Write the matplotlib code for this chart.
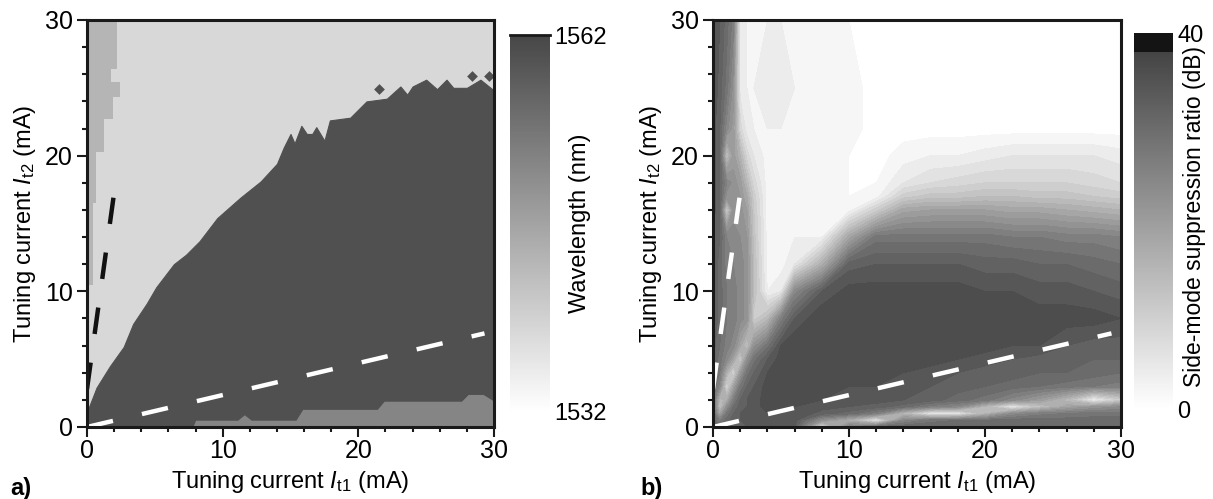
import numpy as np
import matplotlib
matplotlib.use('Agg')
import matplotlib.pyplot as plt
from matplotlib.colors import LinearSegmentedColormap, Normalize
from matplotlib.cm import ScalarMappable
from matplotlib.ticker import MultipleLocator

plt.rcParams['font.family'] = 'Liberation Sans'
plt.rcParams['mathtext.fontset'] = 'custom'
plt.rcParams['mathtext.rm'] = 'Liberation Sans'
plt.rcParams['mathtext.it'] = 'Liberation Sans:italic'
plt.rcParams['font.size'] = 17

# ---- panel a: lasing wavelength (nm) of each mode region
wl_background = 1538.4
wl_dark = 1560.5
wl_left = 1544.1
wl_bottom = 1551.9

# upper edge of the long-wavelength region (mA)
dark_x = [0, 0.7, 1.7, 2.7, 3.4, 4.4, 5.1, 6.4, 7.3, 8.3, 9.6, 11.3, 12.8, 14.0, 14.5, 15.0,
          15.3, 15.8, 16.2, 16.6, 16.9, 17.5, 17.9, 19.4, 20.6, 22.1, 23.1, 23.6, 24.0, 25.0,
          25.8, 26.5, 27.0, 28.0, 29.0, 30]
dark_y = [1.1, 2.9, 4.5, 5.9, 7.6, 9.1, 10.3, 12.0, 12.7, 13.7, 15.4, 16.9, 18.1, 19.4, 20.6, 21.6,
          20.9, 22.2, 21.6, 21.6, 22.1, 21.1, 22.6, 22.8, 24.0, 24.2, 25.1, 24.5, 25.1, 25.6,
          24.9, 25.6, 25.0, 25.0, 25.6, 24.8]
dark_spot_x = [21.5, 28.4, 29.6]
dark_spot_y = [24.9, 25.9, 25.9]

# upper edge of the strip along the bottom
strip_x = [7.8, 8.0, 11.1, 11.6, 12.1, 15.4, 15.9, 21.4, 21.9, 27.6, 28.1, 29.2, 30]
strip_y = [0.0, 0.5, 0.5, 0.9, 0.5, 0.5, 1.3, 1.3, 1.9, 1.9, 2.4, 2.4, 1.9]

# right edge of the strip along the left axis
left_y = [30, 26.4, 26.4, 25.4, 25.4, 24.3, 24.3, 22.7, 22.7, 20.3, 20.3, 16.5, 16.5, 10.5]
left_x = [2.2, 2.2, 1.75, 1.75, 2.4, 2.4, 1.95, 1.95, 1.25, 1.25, 0.7, 0.7, 0.45, 0.45]

# ---- panel b: side-mode suppression ratio (dB), read on a coarse grid
smsr_x = [0, 0.5, 1, 1.5, 2, 2.5, 3, 4, 5, 6, 8, 10, 12, 14, 16, 18, 20, 22, 24, 26, 28, 30]
smsr_y = [0, 0.5, 1, 1.5, 2, 3, 4, 5, 6, 8, 10, 12, 14, 16, 17, 18, 20, 22, 25, 30]
# one column per smsr_x entry, values from bottom (y=0) to top (y=30)
smsr_cols = [
    [31, 30, 29, 29, 29, 29, 30, 31, 32, 33, 33, 33, 33, 34, 34, 34, 34, 34, 35, 35],
    [30, 26, 18, 12, 14, 24, 27, 28, 29, 30, 30, 30, 31, 31, 31, 31, 31, 31, 32, 33],
    [31, 30, 27, 22, 16, 8, 16, 24, 26, 27, 27, 26, 25, 10, 22, 25, 12, 24, 28, 30],
    [32, 32, 31, 29, 26, 18, 8, 18, 24, 26, 26, 25, 24, 22, 22, 22, 20, 20, 22, 26],
    [33, 33, 33, 32, 31, 27, 20, 10, 18, 24, 24, 24, 23, 22, 21, 20, 15, 8, 4, 4],
    [33, 34, 34, 33, 33, 31, 28, 22, 12, 22, 22, 22, 21, 19, 17, 14, 8, 4, 3, 3],
    [33, 34, 34, 34, 34, 33, 31, 28, 22, 10, 13, 13, 12, 11, 10, 8, 5, 3, 3, 3],
    [33, 34, 35, 36, 36, 36, 35, 33, 28, 14, 3, 2, 2, 2, 2, 2, 2, 3, 4, 3],
    [33, 34, 35, 36, 36, 37, 37, 36, 35, 26, 5, 2, 2, 2, 2, 2, 2, 3, 4, 3],
    [33, 34, 35, 35, 36, 37, 37, 37, 37, 33, 24, 5, 3, 2, 2, 2, 2, 3, 3, 3],
    [6, 22, 32, 34, 35, 36, 37, 37, 37, 37, 33, 16, 3, 2, 2, 2, 2, 2, 3, 2],
    [26, 16, 30, 33, 34, 35, 36, 37, 37, 37, 36, 32, 18, 2, 1, 1, 1, 2, 2, 1],
    [30, 4, 26, 32, 34, 35, 36, 37, 37, 37, 36, 33, 28, 10, 2, 1, 0, 0, 0, 0],
    [31, 24, 14, 30, 33, 34, 35, 36, 37, 37, 36, 33, 28, 18, 10, 5, 2, 0, 0, 0],
    [31, 28, 4, 26, 32, 33, 34, 36, 37, 37, 36, 33, 28, 19, 12, 7, 3, 0, 0, 0],
    [31, 29, 4, 24, 30, 32, 33, 35, 37, 37, 36, 33, 28, 19, 12, 8, 3, 0, 0, 0],
    [31, 29, 14, 14, 28, 31, 32, 34, 36, 37, 35, 32, 28, 19, 13, 9, 4, 0, 0, 0],
    [31, 30, 23, 4, 24, 30, 32, 33, 35, 37, 35, 32, 27, 18, 13, 9, 5, 0, 0, 0],
    [31, 30, 26, 12, 20, 29, 31, 32, 35, 36, 34, 31, 27, 18, 12, 9, 5, 0, 0, 0],
    [31, 30, 27, 18, 14, 28, 31, 32, 33, 36, 34, 31, 26, 17, 12, 9, 5, 0, 0, 0],
    [31, 30, 28, 21, 3, 27, 30, 31, 32, 36, 33, 30, 26, 16, 11, 8, 5, 0, 0, 0],
    [31, 30, 28, 23, 10, 26, 29, 31, 32, 35, 32, 29, 25, 15, 10, 7, 4, 0, 0, 0],
]

# guide lines (same in both panels)
steep_x = [0, 1.95]
steep_y = [2.8, 16.9]
flat_x = [0, 29.3]
flat_y = [0, 6.9]

# colour maps
cmap_a = LinearSegmentedColormap.from_list('wl', ['#ffffff', '#474747'])
norm_a = Normalize(1532, 1562)
cmap_b = LinearSegmentedColormap.from_list(
    'smsr', [(0, '#ffffff'), (0.95, '#444444'), (0.95, '#141414'), (1, '#141414')])
norm_b = Normalize(0, 40)

W, H = 1213, 499
fig = plt.figure(figsize=(W / 100, H / 100), dpi=100)
ax1 = fig.add_axes([87 / W, 72 / H, 407 / W, 407 / H])
cax1 = fig.add_axes([510 / W, 87 / H, 40 / W, 377 / H])
ax2 = fig.add_axes([713 / W, 72 / H, 408 / W, 407 / H])
cax2 = fig.add_axes([1134 / W, 90 / H, 39 / W, 376 / H])


def style_axes(ax):
    ax.set_xlim(0, 30)
    ax.set_ylim(0, 30)
    ax.set_xticks([0, 10, 20, 30])
    ax.set_yticks([0, 10, 20, 30])
    ax.xaxis.set_minor_locator(MultipleLocator(2))
    ax.yaxis.set_minor_locator(MultipleLocator(2))
    ax.tick_params(which='major', direction='out', length=7, width=1.5, color='#1a1a1a',
                   labelsize=18)
    ax.tick_params(which='minor', direction='out', length=3.6, width=1.5, color='#1a1a1a')
    ax.tick_params(axis='x', pad=2)
    ax.tick_params(axis='y', pad=3)
    for s in ax.spines.values():
        s.set_linewidth(2.2)
        s.set_color('#1a1a1a')
        s.set_zorder(5)
    ax.set_xlabel(r'Tuning current $I_{\mathrm{t1}}$ (mA)', labelpad=4)
    ax.set_ylabel(r'Tuning current $I_{\mathrm{t2}}$ (mA)', labelpad=5)


# panel a
ax1.set_facecolor(cmap_a(norm_a(wl_background)))
ax1.fill_betweenx(left_y, 0, left_x, color=cmap_a(norm_a(wl_left)), lw=0)
ax1.fill_between(dark_x, 0, dark_y, color=cmap_a(norm_a(wl_dark)), lw=0.8,
                 edgecolor=cmap_a(norm_a(wl_dark)))
ax1.scatter(dark_spot_x, dark_spot_y, marker='D', s=30, color=cmap_a(norm_a(wl_dark)), lw=0)
ax1.fill_between(strip_x, 0, strip_y, color=cmap_a(norm_a(wl_bottom)), lw=0)
ax1.plot(steep_x, steep_y, color='#111111', lw=3.2, dashes=(6, 6.5))
ax1.plot(flat_x, flat_y, color='white', lw=3.2, dashes=(6, 6.7))
style_axes(ax1)

cb1 = fig.colorbar(ScalarMappable(norm=norm_a, cmap=cmap_a), cax=cax1)
cb1.outline.set_visible(False)
cb1.set_ticks([1532, 1562])
cax1.tick_params(length=0, pad=3, labelsize=17)
cax1.axhline(1562, color='#1a1a1a', lw=2, clip_on=False)
cax1.text(1.75, 0.5, 'Wavelength (nm)', transform=cax1.transAxes, rotation=90,
          ha='center', va='center')

# panel b
Z = np.array(smsr_cols, dtype=float).T
levels = np.arange(-1, 38, 2)
ax2.contourf(smsr_x, smsr_y, Z, levels=levels, cmap=cmap_b, norm=norm_b)
ax2.plot(steep_x, steep_y, color='white', lw=3.2, dashes=(6, 6.5))
ax2.plot(flat_x, flat_y, color='white', lw=3.2, dashes=(6, 6.7))
style_axes(ax2)

cb2 = fig.colorbar(ScalarMappable(norm=norm_b, cmap=cmap_b), cax=cax2)
cb2.outline.set_visible(False)
cb2.set_ticks([0, 40])
cax2.tick_params(length=0, pad=3, labelsize=17)
cax2.text(1.54, 0.513, 'Side-mode suppression ratio (dB)', transform=cax2.transAxes,
          rotation=90, ha='center', va='center', fontsize=16.5)

fig.text(10 / W, 1 - 489 / H, 'a)', weight='bold', ha='left', va='center')
fig.text(640 / W, 1 - 489 / H, 'b)', weight='bold', ha='left', va='center')

fig.savefig('out.png', dpi=100)
